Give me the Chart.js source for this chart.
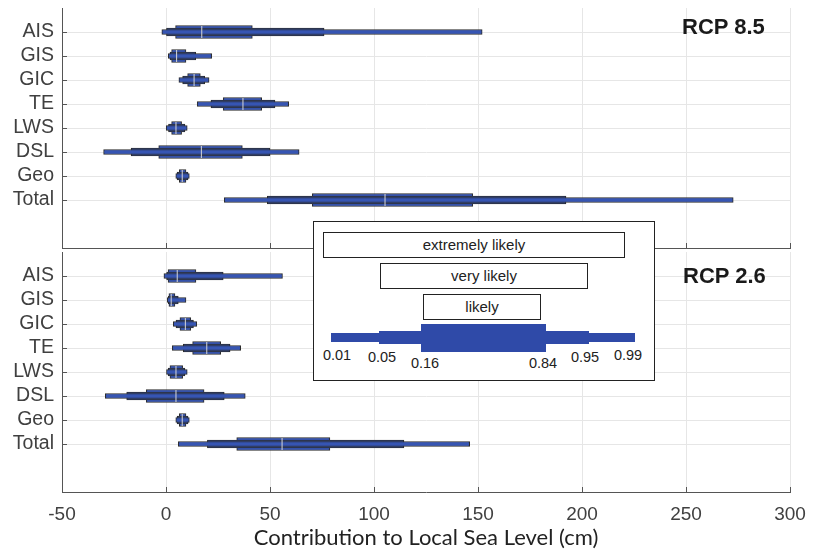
<!DOCTYPE html>
<html>
<head>
<meta charset="utf-8">
<script src="https://cdn.jsdelivr.net/npm/chart.js@4.4.1/dist/chart.umd.min.js"></script>
<style>
  html, body { margin: 0; padding: 0; background: #fff; }
  #wrap { position: relative; width: 821px; height: 552px; overflow: hidden; font-family: "Liberation Sans", Arial, sans-serif; }
  canvas { position: absolute; left: 0; }
  #top { top: 0; }
  #bottom { top: 250px; }
  .scenario { position: absolute; font-weight: bold; font-size: 22px; line-height: 1; color: #1a1a1a; }
  .key { position: absolute; left: 313px; top: 221px; width: 342px; height: 160px; box-sizing: border-box; border: 1px solid #222; background: #fff; }
  .band { position: absolute; box-sizing: border-box; border: 1px solid #222; background: #fff; font-size: 15px; line-height: 24px; color: #222; text-align: center; }
  .swatch { position: absolute; background: #2f4aa8; }
  .q { position: absolute; font-size: 14.5px; line-height: 1; color: #222; transform: translate(-50%, -50%); }
</style>
</head>
<body>
<div id="wrap">
  <canvas id="top" width="821" height="250"></canvas>
  <canvas id="bottom" width="821" height="302"></canvas>

  <div class="scenario" style="left:682px; top:16px;">RCP 8.5</div>
  <div class="scenario" style="left:683px; top:265px;">RCP 2.6</div>

  <div class="key"></div>
  <div class="band" style="left:323px; top:232px; width:302px; height:26px;">extremely likely</div>
  <div class="band" style="left:380px; top:263px; width:208px; height:26px;">very likely</div>
  <div class="band" style="left:423px; top:294px; width:118px; height:26px;">likely</div>
  <div class="swatch" style="left:331px; top:333px; width:304px; height:9px;"></div>
  <div class="swatch" style="left:379px; top:331px; width:210px; height:13px;"></div>
  <div class="swatch" style="left:421px; top:324px; width:125px; height:28px;"></div>
  <div class="q" style="left:337px; top:355px;">0.01</div>
  <div class="q" style="left:382px; top:357px;">0.05</div>
  <div class="q" style="left:425px; top:363px;">0.16</div>
  <div class="q" style="left:543px; top:363px;">0.84</div>
  <div class="q" style="left:585px; top:357px;">0.95</div>
  <div class="q" style="left:628px; top:355px;">0.99</div>
</div>

<script>
const components = ['AIS', 'GIS', 'GIC', 'TE', 'LWS', 'DSL', 'Geo', 'Total'];
const xTicks = [-50, 0, 50, 100, 150, 200, 250, 300];

// RCP 8.5 contribution quantiles (cm)
const rcp85q01 = [-2, 1.1, 6.2, 15, 0.1, -30, 4.7, 28];
const rcp85q05 = [0, 1.9, 8, 21.6, 1.2, -16.8, 5.3, 48.7];
const rcp85q16 = [4.6, 2.7, 10.4, 27.5, 2.7, -3.5, 6.4, 70.3];
const rcp85q50 = [17.2, 5.1, 13.5, 37, 4.8, 17, 7.8, 105.3];
const rcp85q84 = [41.5, 9.6, 16.5, 46, 7.5, 36.7, 9.6, 147.5];
const rcp85q95 = [76, 14.3, 18.6, 52.4, 9.1, 50, 10.6, 192.3];
const rcp85q99 = [152, 22, 20.7, 59, 10.2, 64, 11.2, 272.7];

// RCP 2.6 contribution quantiles (cm)
const rcp26q01 = [-1, 0.6, 3.5, 3, 0, -29.2, 4.7, 5.9];
const rcp26q05 = [0.3, 1.1, 4.8, 8.3, 1, -18.9, 5.3, 19.9];
const rcp26q16 = [1, 1.4, 6.7, 12.8, 1.9, -9.5, 6.4, 34];
const rcp26q50 = [5.4, 2.5, 9.3, 19.6, 4.8, 4.8, 7.8, 55.8];
const rcp26q84 = [14.4, 4.3, 11.9, 26.3, 8, 18.3, 9.6, 78.8];
const rcp26q95 = [27.5, 5.9, 13.2, 30.8, 9.1, 28, 10.6, 114.4];
const rcp26q99 = [56, 9.6, 14.8, 35.9, 10.2, 38.1, 11.2, 146];

Chart.defaults.font.family = '"Liberation Sans", Arial, sans-serif';

const BAR_FILL = '#3655b3';
const BAR_EDGE = '#2b2b2b';
const GRID = '#e6e6e6';
const AXIS = '#555';

// short tick marks pointing into the plot
const inwardTicks = {
  id: 'inwardTicks',
  afterDraw(chart) {
    const { ctx, chartArea, scales } = chart;
    ctx.save();
    ctx.strokeStyle = AXIS;
    ctx.lineWidth = 1;
    ctx.beginPath();
    scales.x.ticks.forEach(t => {
      const px = Math.round(scales.x.getPixelForValue(t.value)) + 0.5;
      ctx.moveTo(px, chartArea.bottom);
      ctx.lineTo(px, chartArea.bottom - 5);
    });
    scales.y.ticks.forEach(t => {
      const py = Math.round(scales.y.getPixelForValue(t.value)) + 0.5;
      ctx.moveTo(chartArea.left, py);
      ctx.lineTo(chartArea.left + 5, py);
    });
    ctx.stroke();
    ctx.restore();
  }
};

function range(lo, hi) {
  return components.map((c, i) => ({ x: [lo[i], hi[i]], y: i + 1 }));
}

function bandSet(lo, hi, thickness, order) {
  return {
    data: range(lo, hi),
    barThickness: thickness,
    backgroundColor: BAR_FILL,
    borderColor: BAR_EDGE,
    borderWidth: 1,
    borderSkipped: false,
    grouped: false,
    order: order
  };
}

function makePanel(canvas, q, showX) {
  return new Chart(canvas, {
    type: 'bar',
    data: {
      datasets: [
        {
          type: 'line',
          data: q[3].map((v, i) => ({ x: v, y: i + 1 })),
          showLine: false,
          pointStyle: 'line',
          rotation: 90,
          pointRadius: 6,
          pointHoverRadius: 6,
          pointBorderColor: '#d8d8d8',
          pointBorderWidth: 1,
          order: 0
        },
        bandSet(q[0], q[6], 5, 1),
        bandSet(q[1], q[5], 8, 2),
        bandSet(q[2], q[4], 13, 3)
      ]
    },
    options: {
      indexAxis: 'y',
      responsive: false,
      animation: false,
      events: [],
      layout: {
        autoPadding: false,
        padding: showX ? { top: 2, right: 31, bottom: 1, left: 0 } : { top: 8, right: 31, bottom: 0, left: 0 }
      },
      plugins: { legend: { display: false }, tooltip: { enabled: false } },
      scales: {
        x: {
          type: 'linear',
          min: -50,
          max: 300,
          afterBuildTicks: s => { s.ticks = xTicks.map(v => ({ value: v })); },
          afterFit: s => {
            s.height = showX ? 59 : 2;
            s.paddingLeft = 0;
            s.paddingRight = 0;
          },
          grid: { color: GRID, drawTicks: false },
          border: { color: AXIS },
          ticks: { display: showX, color: '#404040', font: { size: 19 }, padding: 11, maxRotation: 0 },
          title: {
            display: showX,
            text: 'Contribution to Local Sea Level (cm)',
            color: '#222',
            font: { family: 'Lato, "Liberation Sans", sans-serif', size: 22 },
            padding: 0
          }
        },
        y: {
          type: 'linear',
          min: 0,
          max: 10,
          reverse: true,
          offset: false,
          afterBuildTicks: s => { s.ticks = components.map((c, i) => ({ value: i + 1 })); },
          afterFit: s => {
            s.width = 62;
            s.paddingTop = 0;
            s.paddingBottom = 0;
          },
          grid: { color: GRID, drawTicks: false, offset: false },
          border: { color: AXIS },
          ticks: { callback: v => components[v - 1], color: '#404040', font: { size: 19.5 }, padding: 8, autoSkip: false }
        }
      }
    },
    plugins: [inwardTicks]
  });
}

makePanel(document.getElementById('top'),
  [rcp85q01, rcp85q05, rcp85q16, rcp85q50, rcp85q84, rcp85q95, rcp85q99], false);
makePanel(document.getElementById('bottom'),
  [rcp26q01, rcp26q05, rcp26q16, rcp26q50, rcp26q84, rcp26q95, rcp26q99], true);
</script>
</body>
</html>
